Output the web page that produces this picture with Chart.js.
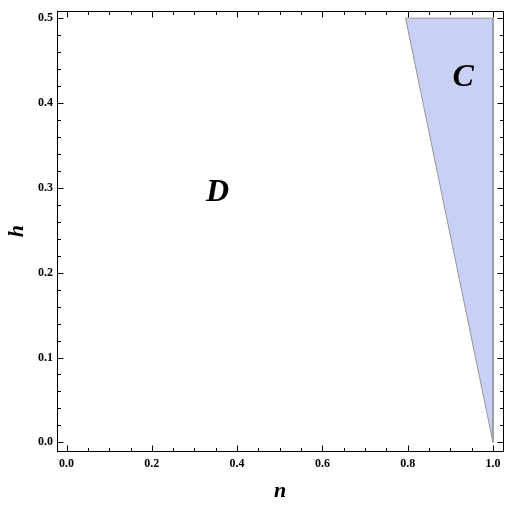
<!DOCTYPE html>
<html>
<head>
<meta charset="utf-8">
<script src="https://cdn.jsdelivr.net/npm/chart.js@4"></script>
<style>
html,body{margin:0;padding:0;background:#fff;}
#wrap{width:510px;height:505px;}
</style>
</head>
<body>
<div id="wrap"><canvas id="c" width="510" height="505"></canvas></div>
<script>
// ---- data ----
const xTicks = [0.0, 0.2, 0.4, 0.6, 0.8, 1.0];
const yTicks = [0.0, 0.1, 0.2, 0.3, 0.4, 0.5];
const regionN = [0.795, 1.0, 1.0, 0.795];
const regionH = [0.5, 0.5, 0.0, 0.5];
const regionLabels = ["D", "C"];
const regionLabelN = [0.354, 0.93];
const regionLabelH = [0.294, 0.43];
const xTitle = "n";
const yTitle = "h";

const xMin = -0.0224, xMax = 1.0235, yMin = -0.0102, yMax = 0.5082;

const regionData = regionN.map((n, i) => ({x: n, y: regionH[i]}));

const framePlugin = {
  id: 'framePlugin',
  afterDatasetsDraw(chart) {
    const ctx = chart.ctx;
    const a = chart.chartArea;
    const xs = chart.scales.x, ys = chart.scales.y;
    ctx.save();
    // region labels
    ctx.fillStyle = '#000';
    ctx.font = 'italic bold 32px "Liberation Serif", "DejaVu Serif", serif';
    ctx.textAlign = 'center';
    ctx.textBaseline = 'middle';
    regionLabels.forEach((t, i) => {
      ctx.fillText(t, xs.getPixelForValue(regionLabelN[i]), ys.getPixelForValue(regionLabelH[i]));
    });
    // frame
    ctx.strokeStyle = '#000';
    ctx.lineWidth = 1;
    ctx.strokeRect(Math.round(a.left) + 0.5, Math.round(a.top) + 0.5,
                   Math.round(a.right - a.left), Math.round(a.bottom - a.top));
    const L = Math.round(a.left) + 0.5, R = Math.round(a.right) + 0.5;
    const T = Math.round(a.top) + 0.5, B = Math.round(a.bottom) + 0.5;
    ctx.beginPath();
    const major = 6, minor = 3.5;
    // x ticks
    for (let i = 0; i < xTicks.length; i++) {
      const px = Math.round(xs.getPixelForValue(xTicks[i])) + 0.5;
      ctx.moveTo(px, B); ctx.lineTo(px, B - major);
      ctx.moveTo(px, T); ctx.lineTo(px, T + major);
      if (i < xTicks.length - 1) {
        const step = (xTicks[i + 1] - xTicks[i]) / 4;
        for (let k = 1; k < 4; k++) {
          const mx = Math.round(xs.getPixelForValue(xTicks[i] + k * step)) + 0.5;
          ctx.moveTo(mx, B); ctx.lineTo(mx, B - minor);
          ctx.moveTo(mx, T); ctx.lineTo(mx, T + minor);
        }
      }
    }
    for (let i = 0; i < yTicks.length; i++) {
      const py = Math.round(ys.getPixelForValue(yTicks[i])) + 0.5;
      ctx.moveTo(L, py); ctx.lineTo(L + major, py);
      ctx.moveTo(R, py); ctx.lineTo(R - major, py);
      if (i < yTicks.length - 1) {
        const step = (yTicks[i + 1] - yTicks[i]) / 5;
        for (let k = 1; k < 5; k++) {
          const my = Math.round(ys.getPixelForValue(yTicks[i] + k * step)) + 0.5;
          ctx.moveTo(L, my); ctx.lineTo(L + minor, my);
          ctx.moveTo(R, my); ctx.lineTo(R - minor, my);
        }
      }
    }
    ctx.stroke();
    ctx.restore();
  }
};

const tickFont = {family: '"Liberation Serif", "DejaVu Serif", serif', size: 12, weight: 'bold'};
const titleFont = {family: '"Liberation Serif", "DejaVu Serif", serif', size: 22, weight: 'bold', style: 'italic'};

new Chart(document.getElementById('c'), {
  type: 'scatter',
  data: {
    datasets: [{
      data: regionData,
      showLine: true,
      fill: 'shape',
      backgroundColor: 'rgb(201,208,245)',
      borderColor: 'rgb(150,150,150)',
      borderWidth: 1,
      pointRadius: 0,
      tension: 0
    }]
  },
  options: {
    responsive: false,
    animation: false,
    layout: {padding: {top: 8, right: 7, left: 0, bottom: 0}},
    plugins: {legend: {display: false}, tooltip: {enabled: false}},
    scales: {
      x: {
        type: 'linear', min: xMin, max: xMax,
        afterBuildTicks: s => { s.ticks = xTicks.map(v => ({value: v})); },
        afterFit: s => { s.height = 54; },
        grid: {display: false, drawTicks: false},
        border: {display: false},
        ticks: {color: '#000', font: tickFont, padding: 6, maxRotation: 0,
                callback: v => Number(v).toFixed(1)},
        title: {display: true, text: xTitle, color: '#000', font: titleFont, padding: {top: 0, bottom: 0}}
      },
      y: {
        type: 'linear', min: yMin, max: yMax,
        afterBuildTicks: s => { s.ticks = yTicks.map(v => ({value: v})); },
        afterFit: s => { s.width = 57; },
        grid: {display: false, drawTicks: false},
        border: {display: false},
        ticks: {color: '#000', font: tickFont, padding: 4,
                callback: v => Number(v).toFixed(1)},
        title: {display: true, text: yTitle, color: '#000', font: titleFont, padding: {top: 4, bottom: 0}}
      }
    }
  },
  plugins: [framePlugin]
});
</script>
</body>
</html>
